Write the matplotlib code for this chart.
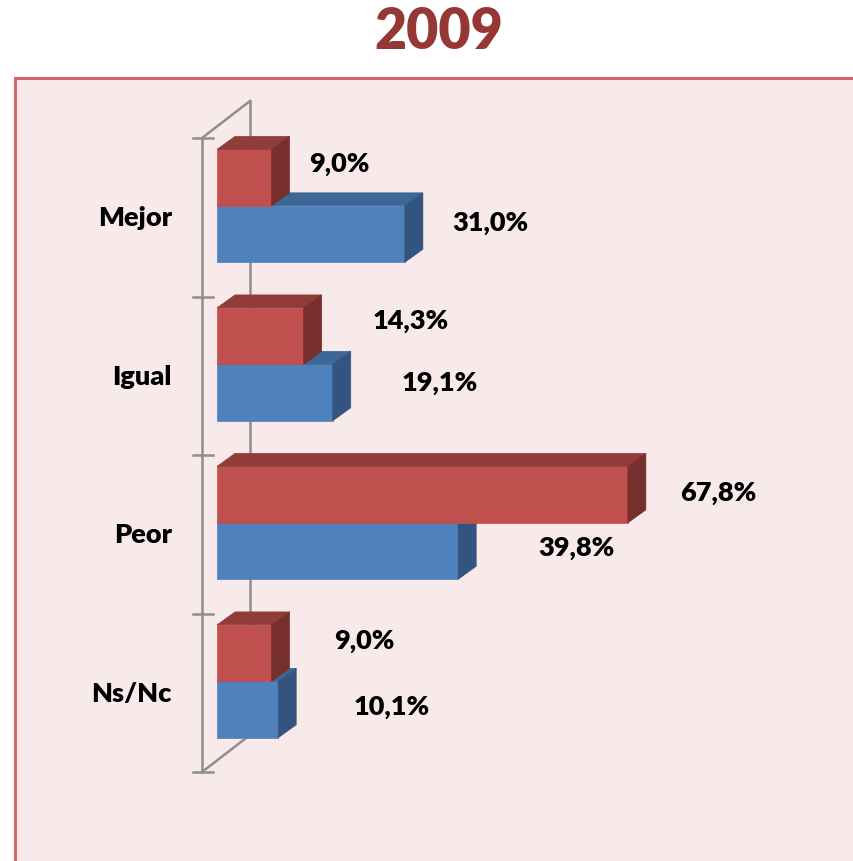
import matplotlib
matplotlib.use('Agg')
import matplotlib.pyplot as plt
from matplotlib.patches import Rectangle, Polygon
from matplotlib.lines import Line2D

plt.rcParams['font.family'] = ['Lato', 'DejaVu Sans']

# Datos
categorias = ['Mejor', 'Igual', 'Peor', 'Ns/Nc']
serie_roja = [9.0, 14.3, 67.8, 9.0]
serie_azul = [31.0, 19.1, 39.8, 10.1]
titulo = '2009'

# Desplazamiento de las etiquetas (pixeles: derecha, arriba)
off_roja = [(38, 15), (69, 16), (52, 3), (63, 13)]
off_azul = [(47, 12), (69, 11), (80, 4), (75, 4)]

W, H = 854, 862
fig = plt.figure(figsize=(W / 100, H / 100), dpi=100)
fig.patch.set_facecolor('white')

# Fondo rosado con borde rojo (izquierda y arriba)
fig.patches.append(Rectangle((15 / W, 0), 1, 1 - 79 / H, transform=fig.transFigure,
                             facecolor='#F8EAEA', edgecolor='none', zorder=-10))
fig.lines.append(Line2D([15 / W, 15 / W], [0, 1 - 79 / H], transform=fig.transFigure,
                        color='#D2666A', lw=2.2, zorder=-9))
fig.lines.append(Line2D([15 / W, 1], [1 - 79 / H, 1 - 79 / H], transform=fig.transFigure,
                        color='#D2666A', lw=2.2, zorder=-9))

fig.text(439 / W, 1 - 32 / H, titulo, ha='center', va='center',
         fontsize=40, fontweight='heavy', color='#953735')

ax = fig.add_axes([0, 0, 1, 1])
ax.axis('off')
ax.patch.set_alpha(0)

px_x = 6.06    # pixeles por punto porcentual
px_y = 158.5   # pixeles por categoria
x0 = -217 / px_x
ax.set_xlim(x0, x0 + W / px_x)
ax.set_ylim((H - 218.25) / px_y, -218.25 / px_y)

n = len(categorias)
pos = list(range(n))

# Paredes del grafico 3D
gris = '#8E8E8E'
xf = (202 - 217) / px_x
xb = (250 - 217) / px_x
dyw = -37 / px_y
ax.plot([xf, xf], [-0.5, n - 0.5], color=gris, lw=1.8, zorder=1)
ax.plot([xb, xb], [-0.5 + dyw, n - 0.5 + dyw], color=gris, lw=1.8, zorder=1)
ax.plot([xf, xb], [-0.5, -0.5 + dyw], color=gris, lw=1.8, zorder=1)
ax.plot([xf, xb], [n - 0.5, n - 0.5 + dyw], color=gris, lw=1.8, zorder=1)
for k in range(n + 1):
    ax.plot([(193 - 217) / px_x, (213 - 217) / px_x], [k - 0.5, k - 0.5],
            color=gris, lw=1.8, zorder=1)

# Barras 3D
dx = 18 / px_x
dy = -13 / px_y
alto = 0.356


def barras_3d(valores, desp, frente, arriba, lado, z):
    bars = ax.barh([p + desp for p in pos], valores, height=alto, color=frente,
                   edgecolor=frente, linewidth=0.5, zorder=z)
    for b in bars:
        bx, by, bw, bh = b.get_x(), b.get_y(), b.get_width(), b.get_height()
        ax.add_patch(Polygon([(bx, by), (bx + bw, by), (bx + bw + dx, by + dy), (bx + dx, by + dy)],
                             facecolor=arriba, edgecolor=arriba, lw=0.5, zorder=z))
        ax.add_patch(Polygon([(bx + bw, by), (bx + bw + dx, by + dy),
                              (bx + bw + dx, by + bh + dy), (bx + bw, by + bh)],
                             facecolor=lado, edgecolor=lado, lw=0.5, zorder=z))
    return bars


azul = barras_3d(serie_azul, 0.106, '#4F81BD', '#3D6796', '#32547F', 2)
roja = barras_3d(serie_roja, -0.25, '#C0504D', '#923C3A', '#772F2D', 3)

# Etiquetas de valores
def etiquetas(bars, valores, offs):
    for b, v, o in zip(bars, valores, offs):
        ax.annotate('{:.1f}%'.format(v).replace('.', ','),
                    (b.get_x() + b.get_width(), b.get_y() + b.get_height() / 2),
                    xytext=o, textcoords='offset pixels', ha='left', va='center',
                    fontsize=19.5, fontweight='heavy', color='black', zorder=5)


etiquetas(roja, serie_roja, off_roja)
etiquetas(azul, serie_azul, off_azul)

# Etiquetas de categorias
for p, c in zip(pos, categorias):
    ax.annotate(c, (0, p), xytext=(-45, 0), textcoords='offset pixels',
                ha='right', va='center', fontsize=19.5, fontweight='heavy', color='black')

fig.savefig('out.png', dpi=100)
